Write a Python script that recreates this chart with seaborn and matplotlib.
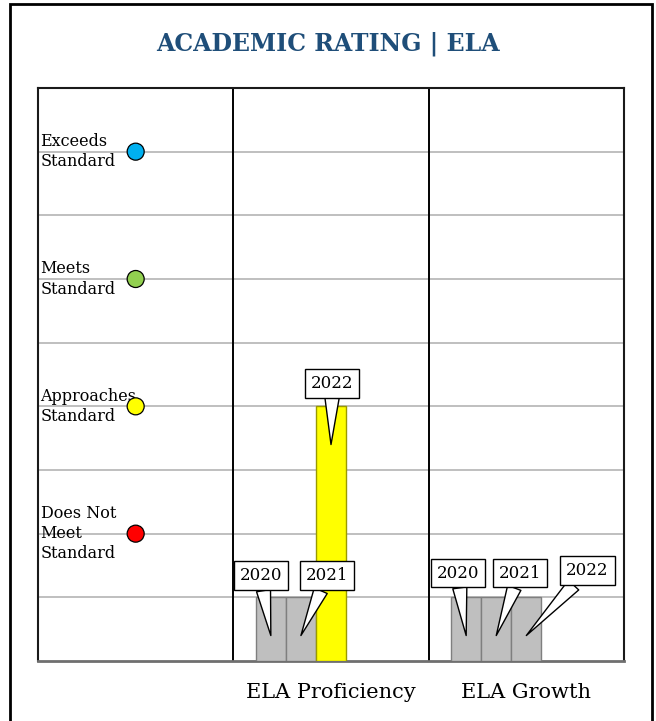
import numpy as np
import pandas as pd
import matplotlib
matplotlib.use("Agg")
import matplotlib.pyplot as plt
from matplotlib.patches import Rectangle
import seaborn as sns

# ── data ──────────────────────────────────────────
columns = ["", "ELA Proficiency", "ELA Growth"]
years = ["2020", "2021", "2022"]
proficiency = [1, 1, 4]
growth = [1, 1, 1]

rating_labels = ["Exceeds\nStandard", "Meets\nStandard",
                 "Approaches\nStandard", "Does Not\nMeet\nStandard"]
rating_levels = [8, 6, 4, 2]
rating_colors = ["#00B0F0", "#92D050", "#FFFF00", "#FF0000"]

# callout offsets (points) for each bar label, proficiency then growth
callout_offsets = [(-7, 43), (19, 43), (1, 44),
                   (-6, 45), (17, 45), (44, 47)]

df = pd.DataFrame({
    "column": [columns[1]] * len(years) + [columns[2]] * len(years),
    "year": years * 2,
    "value": proficiency + growth,
})

# two empty slots keep the cluster spacing of the original chart
slots = years + ["_pad1", "_pad2"]

sns.set_style("white")
plt.rcParams["font.family"] = ["DejaVu Serif", "DejaVu Sans"]
plt.rcParams["text.color"] = "black"
plt.rcParams["xtick.color"] = "black"

fig = plt.figure(figsize=(6.56, 7.21), dpi=100)
ax = fig.add_axes([38 / 656, 60 / 721, 586 / 656, 573 / 721])

sns.barplot(data=df, x="column", y="value", hue="year", order=columns,
            hue_order=slots, width=0.77, ax=ax, legend=False, zorder=3)

# colour each bar by the rating level it reaches
level_color = dict(zip(rating_levels, rating_colors))
edge_color = {"#FFFF00": "#9A9A00"}
bars = [p for p in ax.patches if np.isfinite(p.get_height()) and p.get_height() > 0]
bars.sort(key=lambda p: p.get_x())
for p in bars:
    fc = level_color.get(int(round(p.get_height())), "#BFBFBF")
    p.set_facecolor(fc)
    p.set_edgecolor(edge_color.get(fc, "#7F7F7F"))
    p.set_linewidth(1.0)

# year callouts
for p, yr, off in zip(bars, years * 2, callout_offsets):
    cx = p.get_x() + p.get_width() / 2
    ax.annotate(yr, xy=(cx, p.get_height() - 0.6), xytext=off,
                textcoords="offset points", ha="center", va="center",
                fontsize=12, color="black", zorder=6,
                bbox=dict(boxstyle="square,pad=0.35", fc="white",
                          ec="black", lw=1.0),
                arrowprops=dict(arrowstyle="wedge,tail_width=0.85,shrink_factor=0.5",
                                fc="white", ec="black", lw=1.0,
                                shrinkA=0, shrinkB=0))

# rating scale in the first column
for lab, lev in zip(rating_labels, rating_levels):
    ax.text(-0.487, lev, lab, ha="left", va="center", fontsize=11.5,
            linespacing=1.25, color="black", zorder=4)
sns.scatterplot(x=[0] * len(rating_levels), y=rating_levels,
                hue=rating_labels, palette=rating_colors, s=150,
                edgecolor="black", linewidth=0.9, legend=False,
                ax=ax, zorder=5)

ax.set_xlim(-0.5, 2.5)
ax.set_ylim(0, 9)
ax.set_yticks(range(1, 9))
ax.set_yticklabels([])
ax.yaxis.grid(True, color="#BFBFBF", lw=1.4, zorder=1)
ax.xaxis.grid(False)
for xv in [0.5, 1.5]:
    ax.axvline(xv, color="black", lw=1.4, zorder=2)
ax.tick_params(axis="both", length=0)
ax.tick_params(axis="x", pad=16, labelsize=15, labelcolor="black")
ax.set_xlabel("")
ax.set_ylabel("")
for side in ["left", "top", "right"]:
    ax.spines[side].set_color("#1A1A1A")
    ax.spines[side].set_linewidth(1.5)
ax.spines["bottom"].set_color("#6F6F6F")
ax.spines["bottom"].set_linewidth(2.0)
ax.set_axisbelow(True)

fig.text(0.5, 1 - 44 / 721, "ACADEMIC RATING | ELA", ha="center",
         va="center", fontsize=17, fontweight="bold", color="#1F4E79")

# outer frame
fig.patches.append(Rectangle((10 / 656, -0.05), 642 / 656, 1.05 - 4 / 721,
                             transform=fig.transFigure, fill=False,
                             ec="black", lw=2.0))

fig.savefig("out.png", dpi=100)
